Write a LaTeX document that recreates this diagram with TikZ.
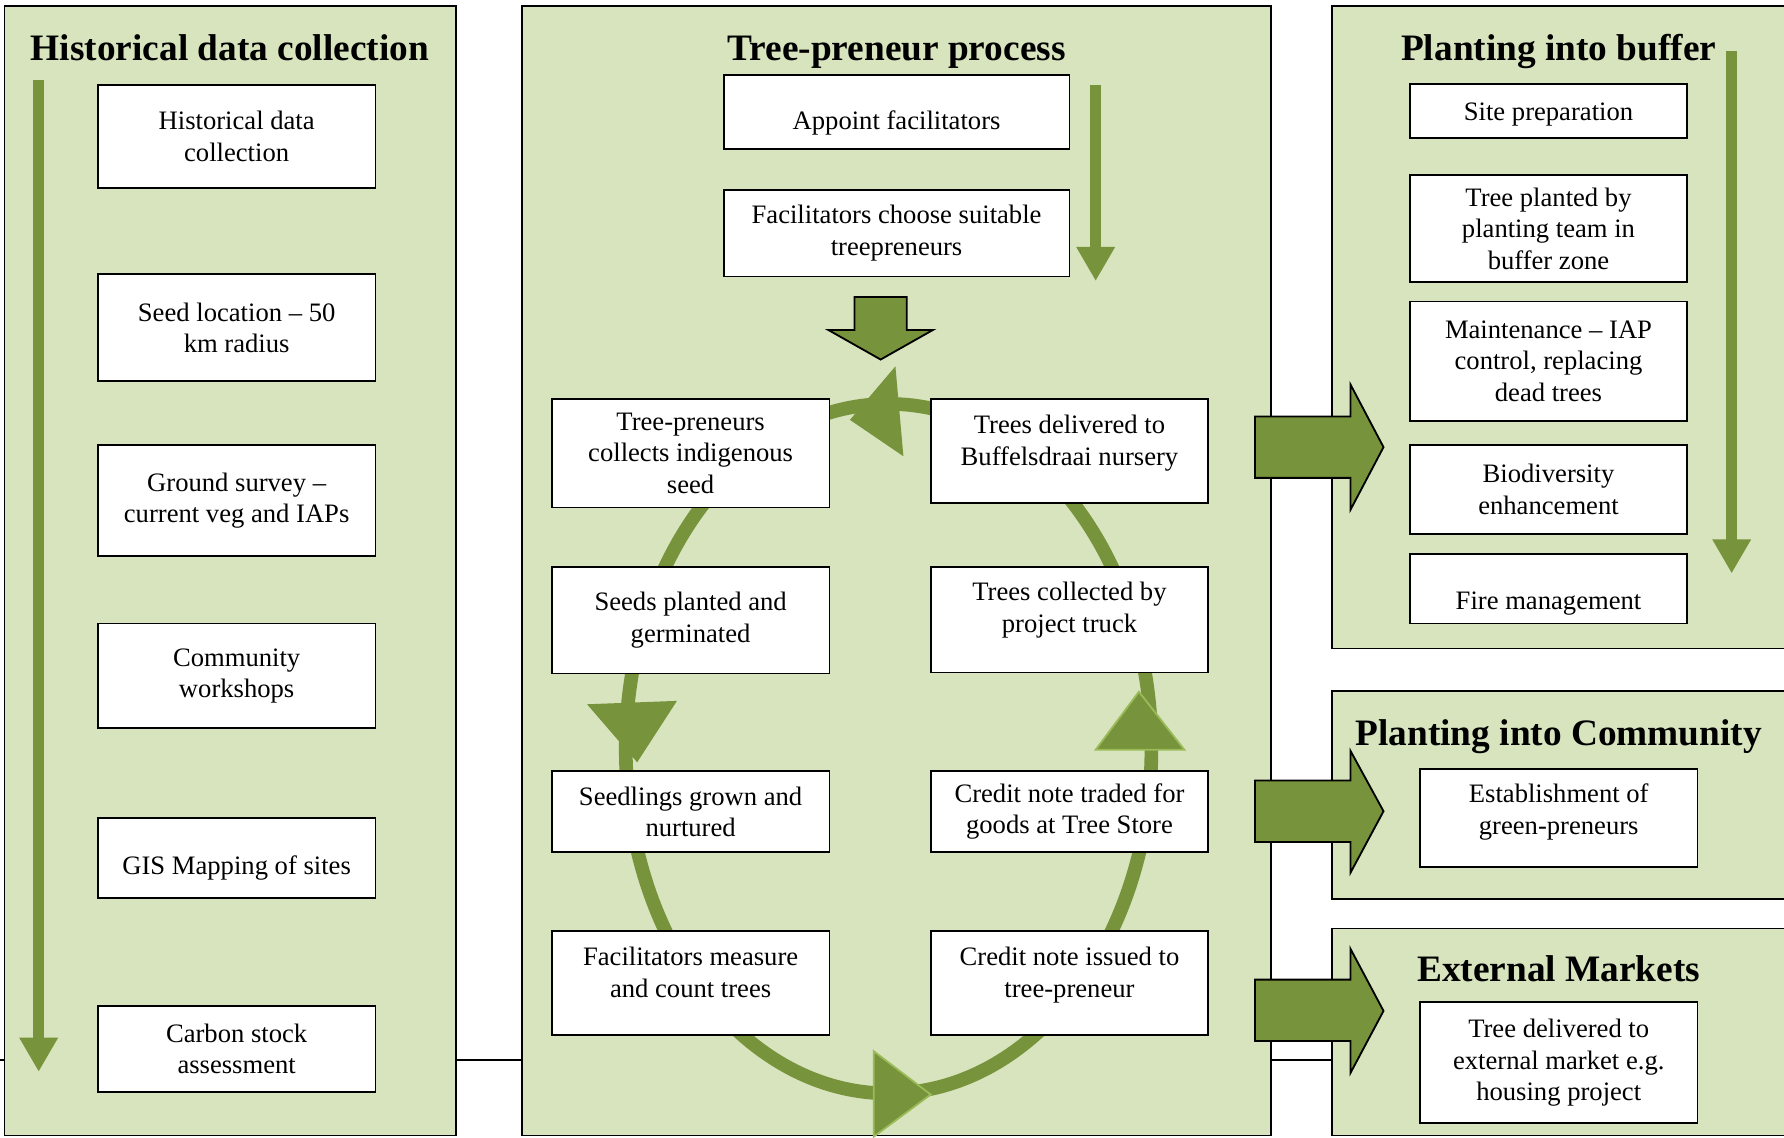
\documentclass[tikz,border=0pt]{standalone}
\usepackage{fontspec}
\setmainfont{Liberation Serif}
\usetikzlibrary{arrows.meta}

\definecolor{panelgreen}{HTML}{D7E4BD}
\definecolor{arrowgreen}{HTML}{77933C}
\definecolor{edgegreen}{HTML}{9BBB59}

% lines of a box, lifted inside the box without changing its size
\newcommand{\liftlines}[2]{\raisebox{#1}[\height][\depth]{\begin{tabular}{@{}c@{}}#2\end{tabular}}}

\tikzset{
  panel/.style={fill=panelgreen, draw=black, line width=0.8pt},
  procbox/.style={draw=black, fill=white, line width=0.8pt, align=center,
    minimum width=122pt, inner sep=2pt, font=\fontsize{11.7}{13.8}\selectfont},
  paneltitle/.style={anchor=base, font=\fontsize{16.4}{19}\selectfont\bfseries},
  blockarrow/.style={fill=arrowgreen, draw=black, line width=0.8pt, line join=miter},
  flowarrow/.style={arrowgreen, line width=5pt, -{Triangle[width=16pt, length=15pt]}},
  cyclehead/.style={fill=arrowgreen, draw=edgegreen, line width=0.8pt}
}

\begin{document}
\begin{tikzpicture}[x=0.5pt, y=-0.5pt]
    \useasboundingbox (0,0) rectangle (1568,1000);
    \clip (0,0) rectangle (1568,1000);

    % --- line running behind the panels ---
    \draw[line width=0.6pt] (0,931.5) -- (1171,931.5);

    % --- panels ---
    \draw[panel] (4,5) rectangle (401,998);
    \draw[panel] (459,5) rectangle (1117,998);
    \draw[panel] (1171,5) rectangle (1600,570);
    \draw[panel] (1171,607) rectangle (1600,790);
    \draw[panel] (1171,816) rectangle (1600,998);

    \node[paneltitle] (histtitle) at (202,53) {Historical data collection};
    \node[paneltitle] (proctitle) at (788,53) {Tree-preneur process};
    \node[paneltitle] (buffertitle) at (1370,53) {Planting into buffer};
    \node[paneltitle] (commtitle) at (1370,655) {Planting into Community};
    \node[paneltitle] (markettitle) at (1370,863) {External Markets};

    % --- Historical data collection ---
    \draw[flowarrow] (34,70) -- (34,942);
    \node[procbox, minimum height=45pt] (hist) at (208,120) {Historical data\\collection};
    \node[procbox, minimum height=47pt] (seed) at (208,288) {Seed location -- 50\\km radius};
    \node[procbox, minimum height=49pt] (survey) at (208,440) {Ground survey --\\current veg and IAPs};
    \node[procbox, minimum height=46pt] (workshop) at (208,594) {Community\\workshops};
    \node[procbox, minimum height=35pt] (gis) at (208,754) {\liftlines{-4.5pt}{GIS Mapping of sites}};
    \node[procbox, minimum height=38pt] (carbon) at (208,922) {Carbon stock\\assessment};

    % --- Tree-preneur process ---
    \draw[flowarrow] (963,75) -- (963,247);
    \node[procbox, minimum width=152pt, minimum height=32.5pt] (appoint) at (788,98.5) {\liftlines{-4.75pt}{Appoint facilitators}};
    \node[procbox, minimum width=152pt, minimum height=38pt] (choose) at (788,205) {Facilitators choose suitable\\treepreneurs};
    \draw[blockarrow] (751,261) -- (797,261) -- (797,290) -- (820,290) -- (774,316)
        -- (728,290) -- (751,290) -- cycle;

    % cycle ring and its heads
    \draw[arrowgreen, line width=6pt] (781,658) ellipse [x radius=231, y radius=303];
    \fill[arrowgreen] (787,322) -- (747,369) -- (794,401) -- cycle;
    \fill[arrowgreen] (516,619) -- (595,616) -- (560,670) -- cycle;
    \filldraw[cyclehead] (768,924) -- (818,962) -- (768,999) -- cycle;
    \filldraw[cyclehead] (1001,608) -- (1041,659) -- (963,659) -- cycle;

    \node[procbox, minimum height=47.5pt] (collect) at (607,398.5) {Tree-preneurs\\collects indigenous\\seed};
    \node[procbox, minimum height=47pt] (planted) at (607,545) {Seeds planted and\\germinated};
    \node[procbox, minimum height=35.5pt] (grown) at (607,713.5) {Seedlings grown and\\nurtured};
    \node[procbox, minimum height=46pt] (measure) at (607,864) {\liftlines{3.5pt}{Facilitators measure\\and count trees}};
    \node[procbox, minimum height=45.5pt] (delivered) at (940,396.5) {\liftlines{3.5pt}{Trees delivered to\\Buffelsdraai nursery}};
    \node[procbox, minimum height=46.5pt] (truck) at (940,544.5) {\liftlines{4pt}{Trees collected by\\project truck}};
    \node[procbox, minimum height=35.5pt] (traded) at (940,713.5) {Credit note traded for\\goods at Tree Store};
    \node[procbox, minimum height=46pt] (issued) at (940,864) {\liftlines{3.5pt}{Credit note issued to\\tree-preneur}};

    % --- outputs to the right ---
    \draw[blockarrow] (1103,366) -- (1187,366) -- (1187,338) -- (1216,393) -- (1187,448)
        -- (1187,420) -- (1103,420) -- cycle;
    \draw[blockarrow] (1103,686) -- (1187,686) -- (1187,660) -- (1216,713) -- (1187,767)
        -- (1187,740) -- (1103,740) -- cycle;
    \draw[blockarrow] (1103,861) -- (1187,861) -- (1187,834) -- (1216,888.5) -- (1187,943)
        -- (1187,915) -- (1103,915) -- cycle;

    % --- Planting into buffer ---
    \draw[flowarrow] (1522,45) -- (1522,504);
    \node[procbox, minimum height=23.5pt] (siteprep) at (1361,97.5) {\liftlines{-1.5pt}{Site preparation}};
    \node[procbox, minimum height=47pt] (planting) at (1361,201) {Tree planted by\\planting team in\\buffer zone};
    \node[procbox, minimum height=52.5pt] (maint) at (1361,317.5) {Maintenance -- IAP\\control, replacing\\dead trees};
    \node[procbox, minimum height=39pt] (biodiv) at (1361,430) {Biodiversity\\enhancement};
    \node[procbox, minimum height=30.5pt] (fire) at (1361,517.5) {\liftlines{-6.25pt}{Fire management}};

    % --- Community and markets ---
    \node[procbox, minimum height=43pt] (greenpren) at (1370,719) {\liftlines{2.5pt}{Establishment of\\green-preneurs}};
    \node[procbox, minimum height=53pt] (market) at (1370,934) {Tree delivered to\\external market e.g.\\housing project};

\end{tikzpicture}
\end{document}
